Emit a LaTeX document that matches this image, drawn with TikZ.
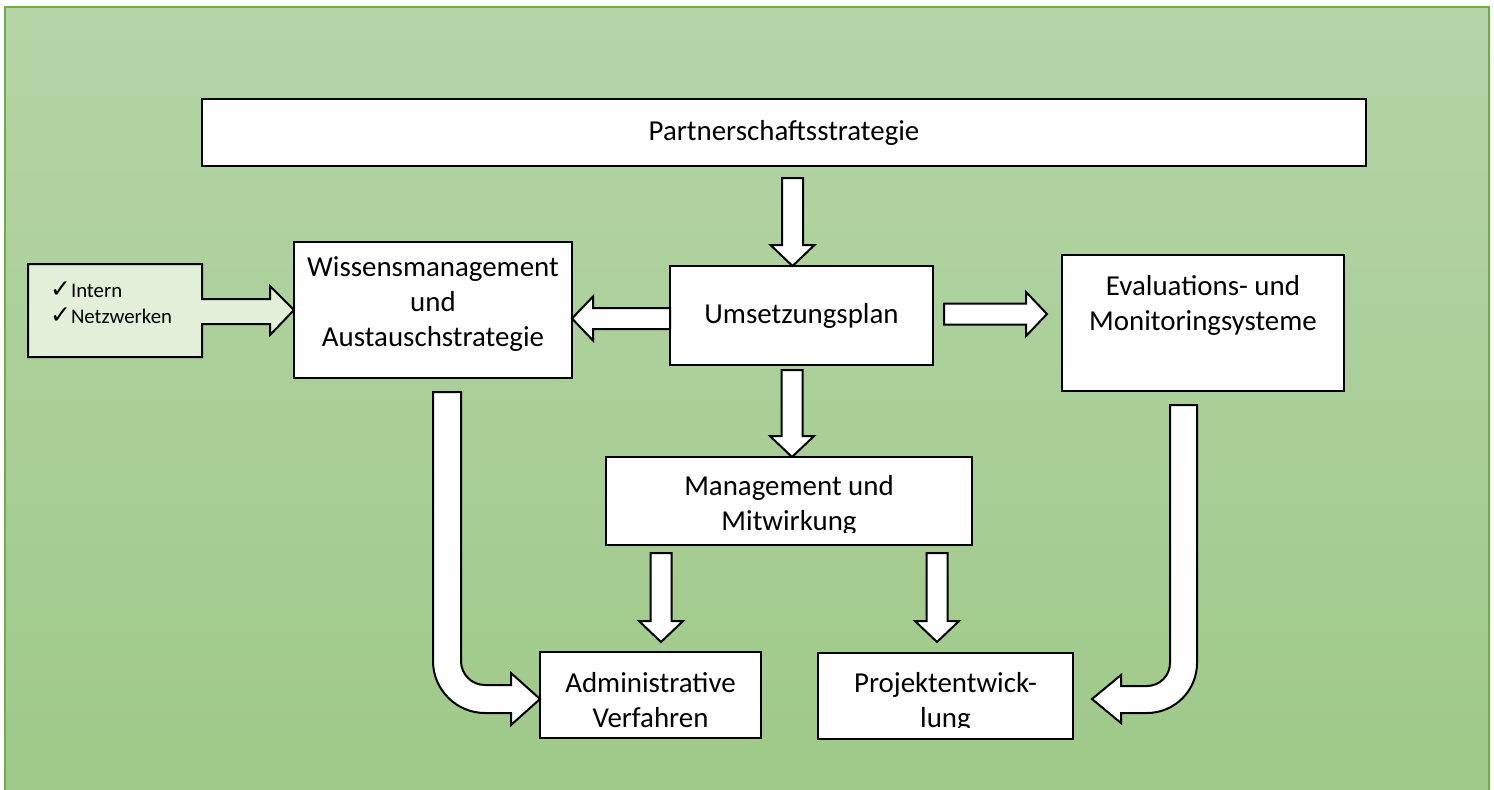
\documentclass[tikz,border=0pt]{standalone}
\usepackage{fontspec}
\setmainfont{Carlito}
\newfontfamily\symfont{DejaVu Sans}
\usetikzlibrary{calc}
\definecolor{bgtop}{RGB}{181,213,167}
\definecolor{bgbot}{RGB}{158,201,136}
\definecolor{framegreen}{RGB}{112,173,71}
\definecolor{listfill}{RGB}{226,239,217}
% block arrows: x (or y) taken from the start, tip from the end
\newcommand\downblk[2]{\draw[blk] let \p1=#1, \p2=#2 in
  (\x1-5.25pt,\y1) -- (\x1+5.25pt,\y1) -- (\x1+5.25pt,\y2+10.5pt) -- (\x1+11pt,\y2+10.5pt)
  -- (\x1,\y2) -- (\x1-11pt,\y2+10.5pt) -- (\x1-5.25pt,\y2+10.5pt) -- cycle;}
\newcommand\leftblk[2]{\draw[blk] let \p1=#1, \p2=#2 in
  (\x1,\y1+5.25pt) -- (\x2+10.5pt,\y1+5.25pt) -- (\x2+10.5pt,\y1+11pt) -- (\x2,\y1)
  -- (\x2+10.5pt,\y1-11pt) -- (\x2+10.5pt,\y1-5.25pt) -- (\x1,\y1-5.25pt) -- cycle;}
\newcommand\rightblk[2]{\draw[blk] let \p1=#1, \p2=#2 in
  (\x1,\y1+5.25pt) -- (\x2-10.5pt,\y1+5.25pt) -- (\x2-10.5pt,\y1+11pt) -- (\x2,\y1)
  -- (\x2-10.5pt,\y1-11pt) -- (\x2-10.5pt,\y1-5.25pt) -- (\x1,\y1-5.25pt) -- cycle;}
\begin{document}
\begin{tikzpicture}[x=0.5pt,y=-0.5pt,
  box/.style={draw,line width=1pt,fill=white,inner sep=0pt,outer sep=0pt},
  lbl/.style={align=center,font=\fontsize{14.45}{17.5}\selectfont},
  blk/.style={draw,line width=1pt,fill=white,line join=miter}]
\useasboundingbox (0,0) rectangle (1494,789);
\shade[top color=bgtop,bottom color=bgbot] (5,7) rectangle (1489,800);
\draw[framegreen,line width=1pt] (5,800) -- (5,7) -- (1489,7) -- (1489,800);

\node[box,lbl,minimum width=582pt,minimum height=33.5pt] (partner) at (784,132.5) {Partnerschaftsstrategie};
\node[box,lbl,minimum width=131.5pt,minimum height=49.5pt] (umsetz) at (801.5,315.5) {\raisebox{-1pt}{Umsetzungsplan}};
\node[box,minimum width=139pt,minimum height=68pt,
  label={[lbl,yshift=3pt]center:Wissensmanagement\\und\\Austauschstrategie}] (wissen) at (433,310) {};
\node[box,minimum width=141pt,minimum height=68pt,
  label={[lbl,yshift=9pt]center:Evaluations- und\\Monitoringsysteme}] (eval) at (1203,323) {};
\node[box,minimum width=183pt,minimum height=44pt] (mgmt) at (789,501) {};
\node[box,minimum width=110.5pt,minimum height=43pt] (admin) at (650.5,695) {};
\node[box,minimum width=127.5pt,minimum height=43pt] (projekt) at (945.5,696) {};

% text cut off at the lower inner margin
\begin{scope}
  \clip (mgmt.north west) rectangle ($(mgmt.south east)+(0,-13)$);
  \node[lbl] at ([yshift=-2pt]mgmt.center) {Management und\\Mitwirkung};
\end{scope}
\begin{scope}
  \clip (admin.north west) rectangle ($(admin.south east)+(0,-11)$);
  \node[lbl] at ([yshift=-2.75pt]admin.center) {Administrative\\Verfahren};
\end{scope}
\begin{scope}
  \clip (projekt.north west) rectangle ($(projekt.south east)+(0,-12)$);
  \node[lbl] at ([yshift=-3pt]projekt.center) {Projektentwick-\\lung};
\end{scope}

\filldraw[fill=listfill,line width=1pt,line join=miter] (28,264) -- (202,264) -- (202,299) -- (270,299)
  -- (270,286) -- (wissen.west) -- (270,335) -- (270,324) -- (202,324) -- (202,357) -- (28,357) -- cycle;
\node[anchor=west,align=left,font=\fontsize{10.4}{13}\selectfont] (intern) at (43,303)
  {{\symfont\fontsize{12.5}{13}\selectfont ✓}Intern\\{\symfont\fontsize{12.5}{13}\selectfont ✓}Netzwerken};

\downblk{($(partner.south)+(8.5,12)$)}{(umsetz.north)}
\leftblk{($(umsetz.west)+(0,3)$)}{(wissen.east)}
\rightblk{($(umsetz.east)+(11,-1.5)$)}{($(eval.west)+(-15,0)$)}
\downblk{($(umsetz.south)+(-9.5,5)$)}{(mgmt.north)}
\downblk{($(mgmt.south)+(-128,8)$)}{($(admin.north)+(0,-10)$)}
\downblk{($(mgmt.south)+(148,8)$)}{($(projekt.north)+(0,-11)$)}

\draw[blk] (433,392) -- (461,392) -- (461,661) .. controls (461,674.3) and (471.7,685) .. (485,685)
  -- (511,685) -- (511,673) -- ($(admin.west)+(0,4)$) -- (511,725) -- (511,713) -- (485,713)
  .. controls (456.3,713) and (433,689.7) .. (433,661) -- cycle;
\draw[blk] (1170,405) -- (1197,405) -- (1197,663) .. controls (1197,690.6) and (1174.6,713) .. (1147,713)
  -- (1121,713) -- (1121,723) -- ($(projekt.east)+(19,3)$) -- (1121,675) -- (1121,686) -- (1147,686)
  .. controls (1159.7,686) and (1170,675.7) .. (1170,663) -- cycle;
\end{tikzpicture}
\end{document}
